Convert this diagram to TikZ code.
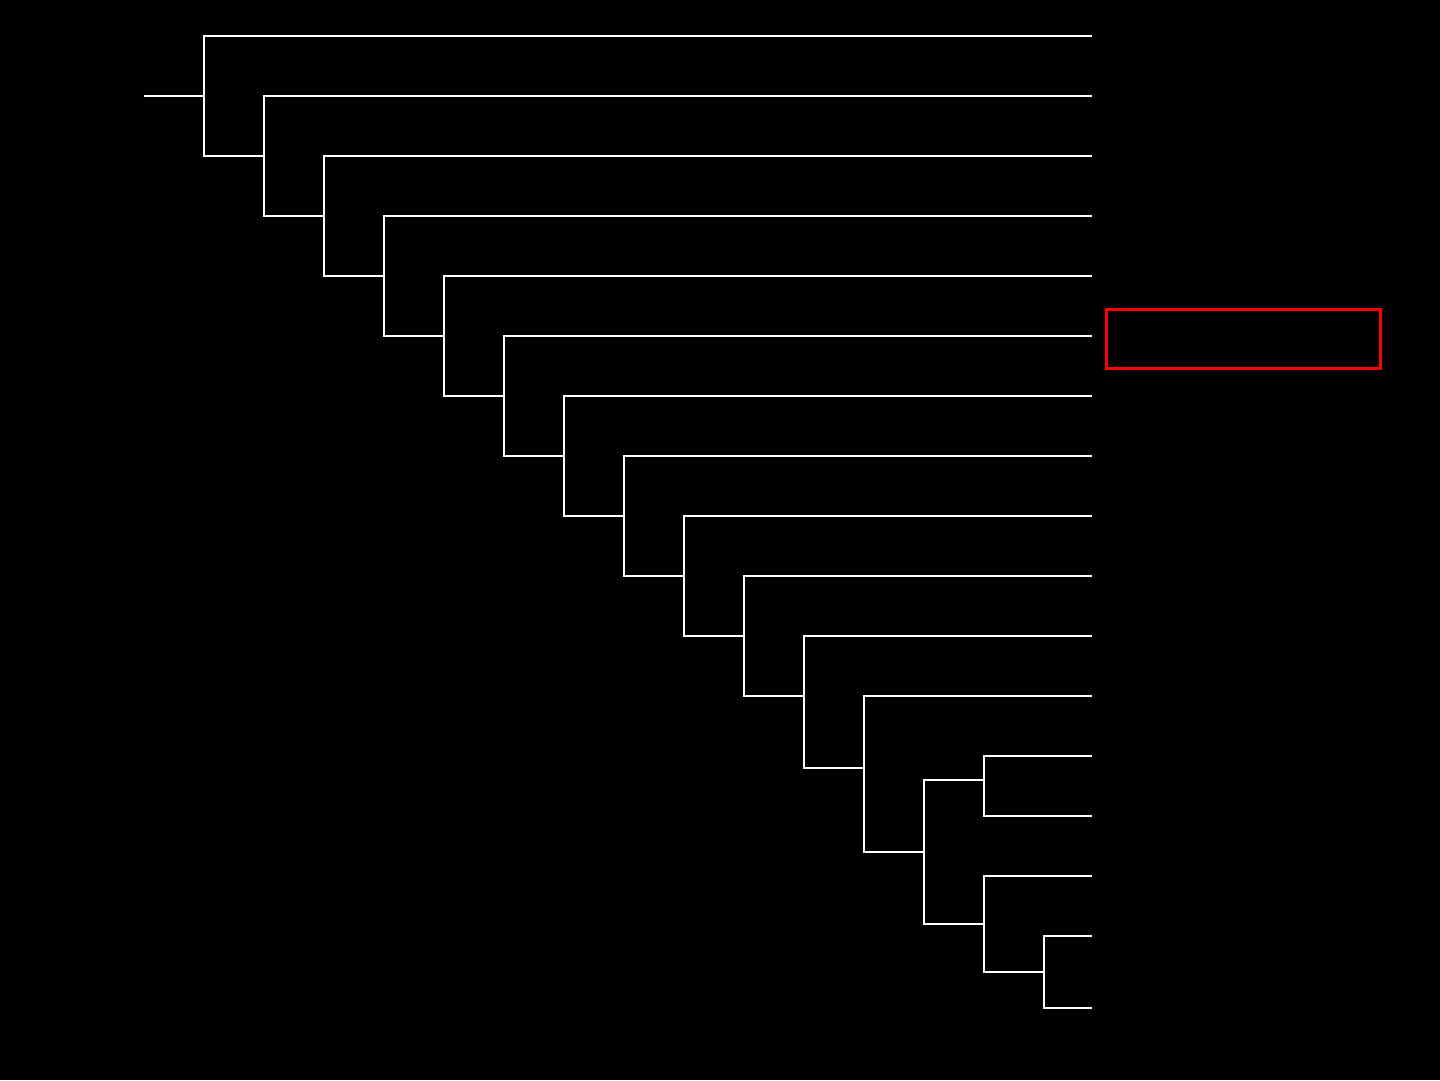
\documentclass[tikz,border=0pt]{standalone}
\begin{document}
\begin{tikzpicture}[x=1pt,y=-1pt,
  branch/.style={draw=white,line width=2pt},
  hilite/.style={draw=red,line width=3pt,inner sep=0pt,minimum width=274pt,minimum height=59pt}]
\fill[black] (0,0) rectangle (1440,1080);
\useasboundingbox (0,0) rectangle (1440,1080);
% internal nodes
\coordinate (r) at (144,96);
\coordinate (n0) at (204,96);
\coordinate (n1) at (264,156);
\coordinate (n2) at (324,216);
\coordinate (n3) at (384,276);
\coordinate (n4) at (444,336);
\coordinate (n5) at (504,396);
\coordinate (n6) at (564,456);
\coordinate (n7) at (624,516);
\coordinate (n8) at (684,576);
\coordinate (n9) at (744,636);
\coordinate (n10) at (804,696);
\coordinate (n11) at (864,768);
\coordinate (m) at (924,852);
\coordinate (a) at (984,780);
\coordinate (b) at (984,924);
\coordinate (c) at (1044,972);
% leaves
\foreach \i/\y in {1/36,2/96,3/156,4/216,5/276,6/336,7/396,8/456,9/516,10/576,11/636,12/696,13/756,14/816,15/876,16/936,17/1008}
  \coordinate (l\i) at (1092,\y);
\draw[branch] (r) -- (n0);
\draw[branch] (n0) |- (l1);  \draw[branch] (n0) |- (n1);
\draw[branch] (n1) |- (l2);  \draw[branch] (n1) |- (n2);
\draw[branch] (n2) |- (l3);  \draw[branch] (n2) |- (n3);
\draw[branch] (n3) |- (l4);  \draw[branch] (n3) |- (n4);
\draw[branch] (n4) |- (l5);  \draw[branch] (n4) |- (n5);
\draw[branch] (n5) |- (l6);  \draw[branch] (n5) |- (n6);
\draw[branch] (n6) |- (l7);  \draw[branch] (n6) |- (n7);
\draw[branch] (n7) |- (l8);  \draw[branch] (n7) |- (n8);
\draw[branch] (n8) |- (l9);  \draw[branch] (n8) |- (n9);
\draw[branch] (n9) |- (l10); \draw[branch] (n9) |- (n10);
\draw[branch] (n10) |- (l11); \draw[branch] (n10) |- (n11);
\draw[branch] (n11) |- (l12); \draw[branch] (n11) |- (m);
\draw[branch] (m) |- (a); \draw[branch] (m) |- (b);
\draw[branch] (a) |- (l13); \draw[branch] (a) |- (l14);
\draw[branch] (b) |- (l15); \draw[branch] (b) |- (c);
\draw[branch] (c) |- (l16); \draw[branch] (c) |- (l17);
\node[hilite] (hl) at (1243.5,339) {};
\end{tikzpicture}
\end{document}
